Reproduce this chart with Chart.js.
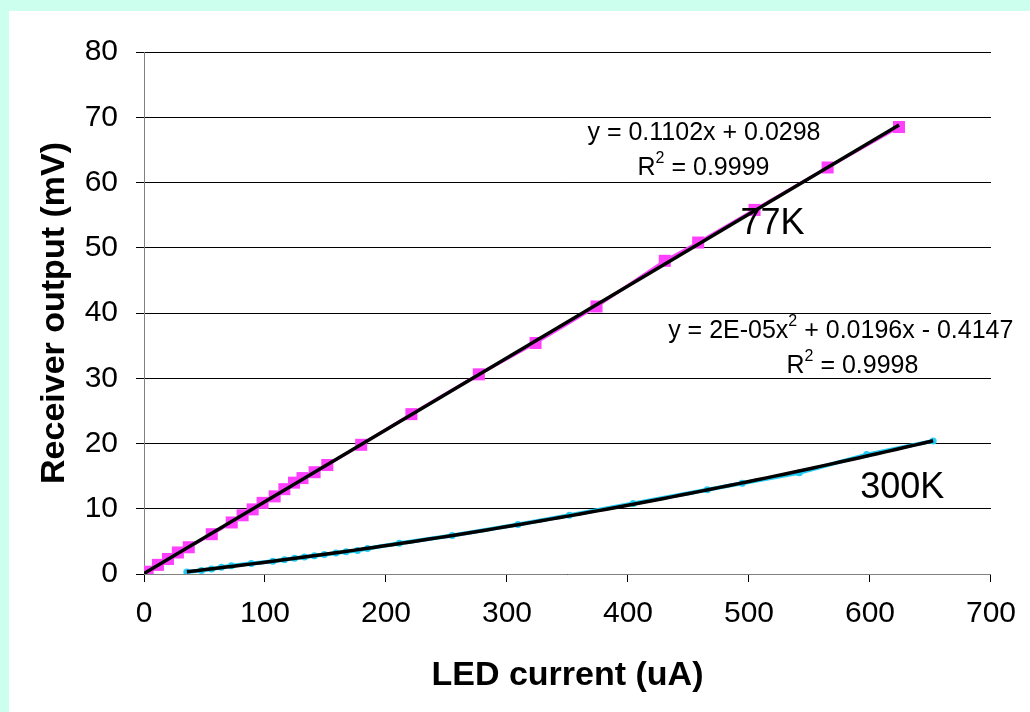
<!DOCTYPE html>
<html>
<head>
<meta charset="utf-8">
<script src="https://cdn.jsdelivr.net/npm/chart.js@4/dist/chart.umd.min.js"></script>
<style>
html,body{margin:0;padding:0;background:#CCFFEE;}
#wrap{position:absolute;left:0;top:0;width:1030px;height:712px;}
</style>
</head>
<body>
<div id="wrap"><canvas id="c" width="1030" height="712"></canvas></div>
<script>
// ---- data ----
const series77Name = "77K";
const x77 = [0, 3, 11.5, 19.8, 28, 37, 56, 72.5, 81.5, 89.8, 98, 108, 116, 124, 131, 141, 151.5, 179.5, 221, 276.7, 323.6, 374, 430.4, 458, 504.6, 565, 624];
const y77 = [0.05, 0.35, 1.4, 2.3, 3.3, 4.1, 6.1, 7.9, 9.0, 9.9, 10.9, 11.9, 13.0, 14.0, 14.7, 15.6, 16.7, 19.8, 24.5, 30.6, 35.4, 41.0, 48.0, 50.8, 55.8, 62.3, 68.5];

const series300Name = "300K";
const x300 = [35.4, 47.5, 55.8, 64, 72.2, 88.7, 106.5, 116, 124.4, 132.6, 140.8, 149, 158.6, 166.9, 176.5, 184.7, 211, 254.7, 309, 351.6, 404.3, 465.5, 494.4, 541.6, 597.3, 652.2];
const y300 = [0.32, 0.55, 0.75, 1.05, 1.25, 1.6, 1.95, 2.2, 2.4, 2.6, 2.8, 3.0, 3.2, 3.4, 3.6, 3.9, 4.7, 5.9, 7.6, 9.0, 10.8, 12.9, 13.9, 15.5, 18.3, 20.4];

const xTicks = [0, 100, 200, 300, 400, 500, 600, 700];
const yTicks = [0, 10, 20, 30, 40, 50, 60, 70, 80];

const xTitle = "LED current (uA)";
const yTitle = "Receiver output (mV)";

const eq77 = ["y = 0.1102x + 0.0298"];
const r77 = "0.9999";
const eq300a = "y = 2E-05x";
const eq300b = " + 0.0196x - 0.4147";
const r300 = "0.9998";

// ---- least-squares trendlines (order 1 and 2) computed from the data ----
function polyFit(xs, ys, deg) {
  const n = deg + 1;
  const A = [];
  for (let i = 0; i < n; i++) {
    A.push(new Array(n + 1).fill(0));
  }
  for (let k = 0; k < xs.length; k++) {
    for (let i = 0; i < n; i++) {
      for (let j = 0; j < n; j++) A[i][j] += Math.pow(xs[k], i + j);
      A[i][n] += ys[k] * Math.pow(xs[k], i);
    }
  }
  for (let i = 0; i < n; i++) {
    let p = i;
    for (let r = i + 1; r < n; r++) if (Math.abs(A[r][i]) > Math.abs(A[p][i])) p = r;
    [A[i], A[p]] = [A[p], A[i]];
    for (let r = 0; r < n; r++) {
      if (r === i) continue;
      const f = A[r][i] / A[i][i];
      for (let c = i; c <= n; c++) A[r][c] -= f * A[i][c];
    }
  }
  return A.map((row, i) => row[n] / row[i]);
}
function trend(xs, ys, deg, steps) {
  const c = polyFit(xs, ys, deg);
  const lo = Math.min(...xs), hi = Math.max(...xs);
  const pts = [];
  for (let s = 0; s <= steps; s++) {
    const x = lo + (hi - lo) * s / steps;
    let y = 0;
    c.forEach((ci, i) => { y += ci * Math.pow(x, i); });
    pts.push({x, y});
  }
  return pts;
}

const pts77 = x77.map((x, i) => ({x, y: y77[i]}));
const pts300 = x300.map((x, i) => ({x, y: y300[i]}));

const bgPlugin = {
  id: 'bg',
  beforeDraw(chart) {
    const ctx = chart.ctx;
    ctx.save();
    ctx.fillStyle = '#CCFFEE';
    ctx.fillRect(0, 0, chart.width, chart.height);
    ctx.fillStyle = '#FFFFFF';
    ctx.fillRect(9, 11, chart.width - 9, chart.height - 11);
    ctx.restore();
  }
};

// text labels placed in data coordinates
const notes = [
  {type: 'plain', text: eq77[0], x: 462.8, y: 67.6, size: 25, align: 'center'},
  {type: 'r2', value: r77, x: 462.4, y: 62.2, size: 25, align: 'center'},
  {type: 'plain', text: series77Name, x: 519.4, y: 53.6, size: 36, align: 'center'},
  {type: 'sq', a: eq300a, b: eq300b, x: 433.2, y: 37.3, size: 25, align: 'left'},
  {type: 'r2', value: r300, x: 585.5, y: 31.9, size: 25, align: 'center'},
  {type: 'plain', text: series300Name, x: 626.7, y: 13.2, size: 36, align: 'center'}
];

function drawSegments(ctx, segs, px, py, align) {
  let total = 0;
  segs.forEach(s => { ctx.font = s.font; s.w = ctx.measureText(s.t).width; total += s.w; });
  let x = align === 'center' ? px - total / 2 : px;
  segs.forEach(s => {
    ctx.font = s.font;
    ctx.fillText(s.t, x, py + (s.sup ? s.dy : 0));
    x += s.w;
  });
}

const textPlugin = {
  id: 'notes',
  afterDraw(chart) {
    const ctx = chart.ctx;
    const xs = chart.scales.x, ys = chart.scales.y;
    ctx.save();
    ctx.fillStyle = '#000';
    ctx.textBaseline = 'middle';
    ctx.textAlign = 'left';
    notes.forEach(n => {
      const px = xs.getPixelForValue(n.x);
      const py = ys.getPixelForValue(n.y);
      const f = n.size + 'px "Liberation Sans", Arial, sans-serif';
      const fs = Math.round(n.size * 0.62) + 'px "Liberation Sans", Arial, sans-serif';
      const dy = -n.size * 0.38;
      let segs;
      if (n.type === 'plain') segs = [{t: n.text, font: f}];
      else if (n.type === 'r2') segs = [{t: 'R', font: f}, {t: '2', font: fs, sup: true, dy}, {t: ' = ' + n.value, font: f}];
      else segs = [{t: n.a, font: f}, {t: '2', font: fs, sup: true, dy}, {t: n.b, font: f}];
      drawSegments(ctx, segs, px, py, n.align);
    });
    ctx.restore();
  }
};

const FONT = '"Liberation Sans", Arial, sans-serif';

new Chart(document.getElementById('c'), {
  type: 'scatter',
  data: {
    datasets: [
      {
        label: 'trend77', data: trend(x77, y77, 1, 2), showLine: true,
        borderColor: '#000', borderWidth: 3.5, pointRadius: 0, order: 0
      },
      {
        label: 'trend300', data: trend(x300, y300, 2, 80), showLine: true,
        borderColor: '#000', borderWidth: 3.5, pointRadius: 0, order: 0
      },
      {
        label: series77Name, data: pts77, showLine: true,
        borderColor: '#FF40FF', borderWidth: 3,
        pointStyle: 'rect', pointRadius: 8.5, pointBackgroundColor: '#FF40FF',
        pointBorderColor: '#FF40FF', pointBorderWidth: 0, order: 1
      },
      {
        label: series300Name, data: pts300, showLine: true,
        borderColor: '#22CCF5', borderWidth: 4,
        pointStyle: 'circle', pointRadius: 3.5, pointBackgroundColor: '#22CCF5',
        pointBorderColor: '#22CCF5', pointBorderWidth: 0, order: 1
      }
    ]
  },
  options: {
    responsive: false,
    animation: false,
    events: [],
    layout: {padding: {left: 30, right: 36, top: 52, bottom: 12}},
    plugins: {legend: {display: false}, tooltip: {enabled: false}},
    scales: {
      x: {
        type: 'linear', min: 0, max: 700,
        afterBuildTicks: s => { s.ticks = xTicks.map(v => ({value: v})); },
        afterFit: s => { s.height = 126; },
        ticks: {font: {family: FONT, size: 30}, color: '#000', padding: 14, maxRotation: 0},
        grid: {drawOnChartArea: false, drawTicks: true, tickLength: 8, color: '#000', lineWidth: 1},
        border: {display: true, color: '#808080', width: 1},
        title: {display: true, text: xTitle, color: '#000', font: {family: FONT, size: 34, weight: 'bold'}, padding: {top: 4, bottom: 4}}
      },
      y: {
        type: 'linear', min: 0, max: 80,
        afterBuildTicks: s => { s.ticks = yTicks.map(v => ({value: v})); },
        afterFit: s => { s.width = 114; },
        ticks: {font: {family: FONT, size: 30}, color: '#000', padding: 18},
        grid: {drawOnChartArea: true, drawTicks: true, tickLength: 8, color: '#000', lineWidth: 1},
        border: {display: true, color: '#808080', width: 1},
        title: {display: true, text: yTitle, color: '#000', font: {family: FONT, size: 34, weight: 'bold'}, padding: {top: 4, bottom: 4}}
      }
    }
  },
  plugins: [bgPlugin, textPlugin]
});
</script>
</body>
</html>
